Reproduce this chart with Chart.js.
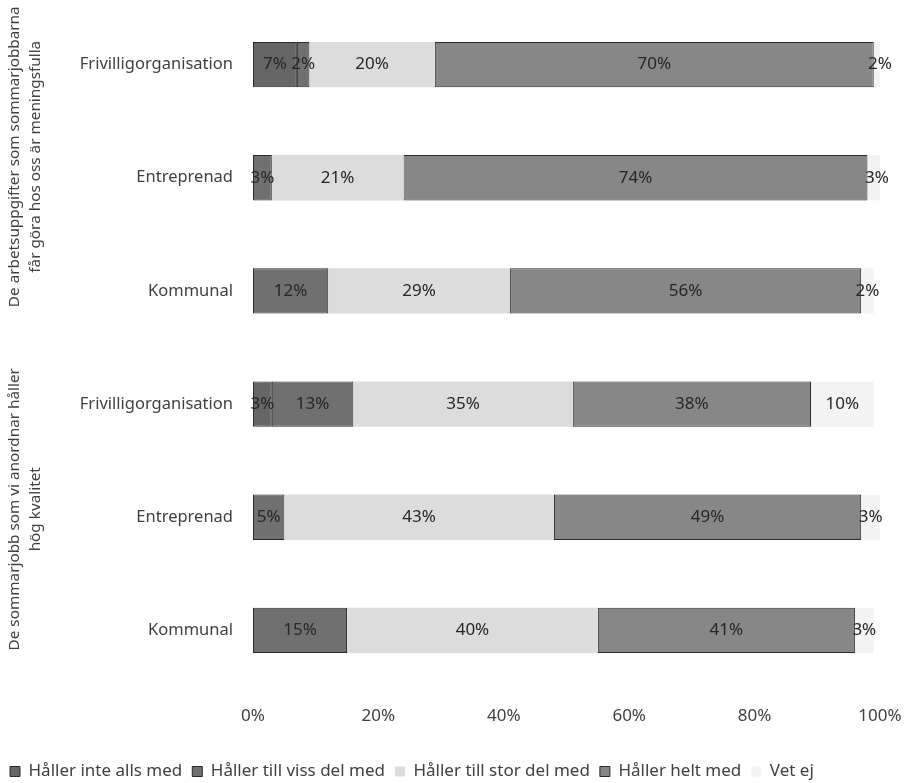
<!DOCTYPE html>
<html><head><meta charset="utf-8">
<script src="https://cdn.jsdelivr.net/npm/chart.js@4"></script>
<style>html,body{margin:0;padding:0;background:#fff}#wrap{width:905px;height:783px}</style>
</head><body><div id="wrap"><canvas id="c"></canvas></div>
<script>
const categories = ["Frivilligorganisation","Entreprenad","Kommunal","Frivilligorganisation","Entreprenad","Kommunal"];
const groupTitles = [["De arbetsuppgifter som sommarjobbarna","får göra hos oss är meningsfulla"],["De sommarjobb som vi anordnar håller","hög kvalitet"]];
const groupRows = [[0,2],[3,5]];
const seriesNames = ["Håller inte alls med","Håller till viss del med","Håller till stor del med","Håller helt med","Vet ej"];
const inteAlls  = [7, 0, 0, 3, 0, 0];
const vissDel   = [2, 3, 12, 13, 5, 15];
const storDel   = [20, 21, 29, 35, 43, 40];
const heltMed   = [70, 74, 56, 38, 49, 41];
const vetEj     = [2, 3, 2, 10, 3, 3];
const xTicks = [0, 20, 40, 60, 80, 100];

const FONT = "'Noto Sans', sans-serif";
const fills = ["#666666", "#707070", "#dcdcdc", "#878787", "#f3f3f3"];
const borders = ["#2a2a2a", "#2a2a2a", "rgba(0,0,0,0)", "#2a2a2a", "rgba(0,0,0,0)"];
const values = [inteAlls, vissDel, storDel, heltMed, vetEj];
const groupOffsets = [-21, -8];

const datasets = seriesNames.map((n, i) => ({
  label: n, data: values[i], backgroundColor: fills[i], borderColor: borders[i],
  borderWidth: (i === 2 || i === 4) ? 0 : 1, borderSkipped: false,
  categoryPercentage: 1.0, barPercentage: 0.4
}));

const labelPlugin = {
  id: 'lbl',
  afterDatasetsDraw(chart) {
    const ctx = chart.ctx;
    ctx.save();
    ctx.font = "17px " + FONT;
    ctx.fillStyle = "#262626";
    ctx.textAlign = "center"; ctx.textBaseline = "middle";
    chart.data.datasets.forEach((ds, di) => {
      const meta = chart.getDatasetMeta(di);
      meta.data.forEach((bar, j) => {
        const v = ds.data[j];
        if (!v) return;
        const cx = (bar.x + bar.base) / 2;
        ctx.fillText(v + "%", cx, bar.y);
      });
    });
    ctx.restore();
  }
};

const groupPlugin = {
  id: 'grp',
  afterDraw(chart) {
    const ctx = chart.ctx; const ys = chart.scales.y;
    ctx.save();
    ctx.font = "15.3px " + FONT;
    ctx.fillStyle = "#404040";
    ctx.textAlign = "center"; ctx.textBaseline = "middle";
    groupTitles.forEach((lines, g) => {
      const r = groupRows[g];
      const cy = (ys.getPixelForValue(r[0]) + ys.getPixelForValue(r[1])) / 2 + groupOffsets[g];
      lines.forEach((t, k) => {
        ctx.save();
        ctx.translate(15 + k * 21, cy);
        ctx.rotate(-Math.PI / 2);
        ctx.fillText(t, 0, 0);
        ctx.restore();
      });
    });
    ctx.restore();
  }
};

new Chart(document.getElementById('c'), {
  type: 'bar',
  data: { labels: categories, datasets },
  options: {
    indexAxis: 'y', responsive: true, maintainAspectRatio: false, animation: false,
    layout: { padding: { top: 8, right: 25, left: 0, bottom: -7 } },
    scales: {
      x: {
        stacked: true, min: 0, max: 100,
        afterBuildTicks(s) { s.ticks = xTicks.map(v => ({ value: v })); },
        afterFit(s) { s.height = 66; s.paddingLeft = 0; s.paddingRight = 0; },
        grid: { display: false, drawTicks: false }, border: { display: false },
        ticks: { padding: 19, color: "#404040", font: { family: FONT, size: 17 }, callback: v => v + "%" }
      },
      y: {
        stacked: true,
        afterFit(s) { s.width = 253; s.paddingTop = 0; s.paddingBottom = 0; },
        grid: { display: false, drawTicks: false }, border: { display: false },
        ticks: { padding: 20, color: "#404040", font: { family: FONT, size: 16.5 } }
      }
    },
    plugins: {
      legend: {
        position: 'bottom', align: 'start',
        labels: { boxWidth: 10, boxHeight: 10, padding: 10, color: "#404040", font: { family: FONT, size: 17 } }
      },
      tooltip: { enabled: false }
    }
  },
  plugins: [labelPlugin, groupPlugin]
});
</script></body></html>
